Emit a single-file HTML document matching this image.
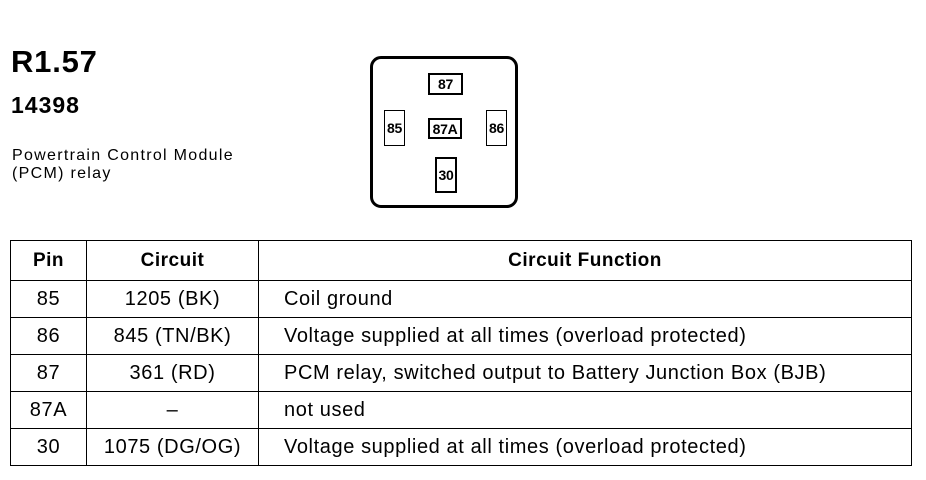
<!DOCTYPE html>
<html><head><meta charset="utf-8"><style>
body{margin:0;width:926px;height:480px;background:#fff;position:relative;font-family:"Liberation Sans",Arial,sans-serif;color:#000;overflow:hidden}
.a{position:absolute}
.b{position:absolute;border:2px solid #000;box-sizing:border-box;display:flex;align-items:center;justify-content:center;font-size:14px;font-weight:bold;letter-spacing:-0.3px}
table{position:absolute;left:10px;top:240px;border-collapse:collapse;width:902px;table-layout:fixed}
td{border:1.5px solid #000;height:36px;padding:0;font-size:20px;letter-spacing:0.6px;text-align:center;white-space:nowrap}
td.f{text-align:left;padding-left:25px}
th{border:1.5px solid #000;height:37px;font-size:19px;font-weight:bold;letter-spacing:0.5px}
</style></head><body>
<div class="a" style="left:11px;top:44px;font-size:31px;font-weight:bold;letter-spacing:0.8px">R1.57</div>
<div class="a" style="left:11px;top:92px;font-size:23px;font-weight:bold;letter-spacing:1px">14398</div>
<div class="a" style="left:12px;top:147px;font-size:16px;line-height:18px;letter-spacing:1.3px">Powertrain Control Module<br>(PCM) relay</div>
<div class="a" style="left:370px;top:56px;width:148px;height:152px;border:3px solid #000;border-radius:11px;box-sizing:border-box"></div>
<div class="b" style="left:428px;top:73px;width:35px;height:22px">87</div>
<div class="b" style="left:384px;top:110px;width:21px;height:36px;border-width:1.5px">85</div>
<div class="b" style="left:428px;top:118px;width:34px;height:21px">87A</div>
<div class="b" style="left:486px;top:110px;width:21px;height:36px;border-width:1.5px">86</div>
<div class="b" style="left:435px;top:157px;width:22px;height:36px">30</div>
<table>
<colgroup><col style="width:76px"><col style="width:172px"><col></colgroup>
<tr><th>Pin</th><th>Circuit</th><th>Circuit Function</th></tr>
<tr><td>85</td><td>1205 (BK)</td><td class="f">Coil ground</td></tr>
<tr><td>86</td><td>845 (TN/BK)</td><td class="f">Voltage supplied at all times (overload protected)</td></tr>
<tr><td>87</td><td>361 (RD)</td><td class="f">PCM relay, switched output to Battery Junction Box (BJB)</td></tr>
<tr><td>87A</td><td>–</td><td class="f">not used</td></tr>
<tr><td>30</td><td>1075 (DG/OG)</td><td class="f">Voltage supplied at all times (overload protected)</td></tr>
</table>
</body></html>
